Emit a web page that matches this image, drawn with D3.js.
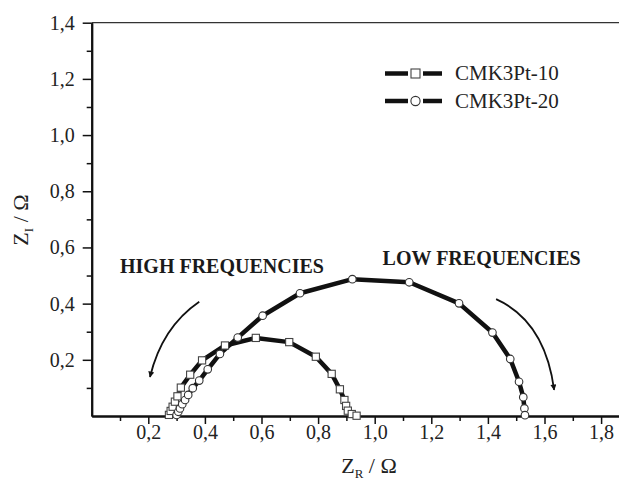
<!DOCTYPE html>
<html>
<head>
<meta charset="utf-8">
<script src="https://cdn.jsdelivr.net/npm/d3@7"></script>
<style>
  html, body { margin: 0; padding: 0; background: #fff; }
  svg { display: block; font-family: "Liberation Serif", "Times New Roman", serif; }
</style>
</head>
<body>
<svg id="chart" width="619" height="484"></svg>
<script>
// ---- data ----
const seriesNames = ["CMK3Pt-10", "CMK3Pt-20"];
const pt10X = [0.273,0.279,0.286,0.294,0.303,0.315,0.348,0.390,0.471,0.580,0.698,0.792,0.848,0.877,0.893,0.899,0.905,0.919,0.936];
const pt10Y = [0.004,0.018,0.033,0.051,0.070,0.101,0.147,0.198,0.251,0.278,0.263,0.211,0.150,0.095,0.057,0.036,0.019,0.007,0.001];
const pt20X = [0.300,0.306,0.312,0.320,0.330,0.341,0.357,0.380,0.410,0.453,0.516,0.604,0.736,0.921,1.122,1.298,1.416,1.479,1.510,1.525,1.529,1.531];
const pt20Y = [0.004,0.015,0.027,0.042,0.057,0.075,0.099,0.126,0.166,0.221,0.279,0.357,0.437,0.487,0.476,0.401,0.297,0.203,0.122,0.067,0.027,0.003];
const xTicks = [0.2,0.4,0.6,0.8,1.0,1.2,1.4,1.6,1.8];
const xMinorTicks = [0.1,0.3,0.5,0.7,0.9,1.1,1.3,1.5,1.7];
const yTicks = [0.2,0.4,0.6,0.8,1.0,1.2,1.4];
const yMinorTicks = [0.1,0.3,0.5,0.7,0.9,1.1,1.3];
const annotations = [
  {text: "HIGH FREQUENCIES", x: 0.1, y: 0.508},
  {text: "LOW FREQUENCIES", x: 1.028, y: 0.539}
];
// arrows: start, control, end in data units
const arrows = [
  {x0: 0.380, y0: 0.407, cx: 0.248, cy: 0.316, x1: 0.206, y1: 0.139},
  {x0: 1.429, y0: 0.416, cx: 1.602, cy: 0.337, x1: 1.634, y1: 0.093}
];

// ---- layout ----
const svg = d3.select("#chart");
const mLeft = 91.7, mTop = 22.7, mBottom = 416, mRight = 619;
const x = d3.scaleLinear().domain([0, (mRight - mLeft) / 283]).range([mLeft, mRight]);
const y = d3.scaleLinear().domain([0, 1.4]).range([mBottom, mTop]);
const fmt = d => d.toFixed(1).replace(".", ",");

svg.append("defs").append("marker")
  .attr("id", "ah").attr("viewBox", "0 0 10 10").attr("refX", 9).attr("refY", 5)
  .attr("markerWidth", 10).attr("markerHeight", 6).attr("markerUnits", "userSpaceOnUse")
  .attr("orient", "auto")
  .append("path").attr("d", "M0,0 L10,5 L0,10 Z").attr("fill", "#111");

// top frame line
svg.append("line").attr("x1", mLeft).attr("x2", mRight).attr("y1", mTop).attr("y2", mTop)
  .attr("stroke", "#333").attr("stroke-width", 1.2);

// axes
const gx = svg.append("g").attr("transform", `translate(0,${mBottom})`)
  .call(d3.axisBottom(x).tickValues(xTicks).tickFormat(fmt).tickSize(8).tickPadding(1).tickSizeOuter(0));
const gxm = svg.append("g").attr("transform", `translate(0,${mBottom})`)
  .call(d3.axisBottom(x).tickValues(xMinorTicks).tickFormat("").tickSize(5).tickSizeOuter(0));
const gy = svg.append("g").attr("transform", `translate(${mLeft},0)`)
  .call(d3.axisLeft(y).tickValues(yTicks).tickFormat(fmt).tickSize(9).tickPadding(8).tickSizeOuter(0));
const gym = svg.append("g").attr("transform", `translate(${mLeft},0)`)
  .call(d3.axisLeft(y).tickValues(yMinorTicks).tickFormat("").tickSize(5).tickSizeOuter(0));
[gx, gxm, gy, gym].forEach(g => {
  g.select(".domain").attr("stroke", "#111").attr("stroke-width", 2);
  g.selectAll(".tick line").attr("stroke", "#111").attr("stroke-width", 1.5);
  g.selectAll(".tick text").attr("fill", "#222").style("font-size", "20px")
    .style("font-family", '"Liberation Serif", "Times New Roman", serif');
});

// axis titles
const xt = svg.append("text").attr("x", 369).attr("y", 473).attr("text-anchor", "middle")
  .style("font-size", "22px").attr("fill", "#222");
xt.append("tspan").text("Z");
xt.append("tspan").attr("dy", 5).style("font-size", "13px").text("R");
xt.append("tspan").attr("dy", -5).text(" / Ω");

const yt = svg.append("text").attr("transform", "translate(28,220) rotate(-90)").attr("text-anchor", "middle")
  .style("font-size", "22px").attr("fill", "#222");
yt.append("tspan").text("Z");
yt.append("tspan").attr("dy", 5).style("font-size", "13px").text("I");
yt.append("tspan").attr("dy", -5).text(" / Ω");

// series
const d10 = pt10X.map((v, i) => [v, pt10Y[i]]);
const d20 = pt20X.map((v, i) => [v, pt20Y[i]]);
const line = d3.line().x(d => x(d[0])).y(d => y(d[1]));
[d10, d20].forEach(d => {
  svg.append("path").attr("d", line(d)).attr("fill", "none").attr("stroke", "#111")
    .attr("stroke-width", 4.5).attr("stroke-linejoin", "round");
});
svg.append("g").selectAll("rect").data(d10).join("rect")
  .attr("x", d => x(d[0]) - 3.6).attr("y", d => y(d[1]) - 3.6)
  .attr("width", 7.2).attr("height", 7.2)
  .attr("fill", "#fff").attr("stroke", "#444").attr("stroke-width", 1.1);
svg.append("g").selectAll("circle").data(d20).join("circle")
  .attr("cx", d => x(d[0])).attr("cy", d => y(d[1])).attr("r", 3.8)
  .attr("fill", "#fff").attr("stroke", "#333").attr("stroke-width", 1.1);

// legend
const lg = svg.append("g");
seriesNames.forEach((name, i) => {
  const ly = 73.5 + i * 27.5;
  lg.append("line").attr("x1", 385).attr("x2", 408).attr("y1", ly).attr("y2", ly)
    .attr("stroke", "#111").attr("stroke-width", 4.5);
  lg.append("line").attr("x1", 423).attr("x2", 442).attr("y1", ly).attr("y2", ly)
    .attr("stroke", "#111").attr("stroke-width", 4.5);
  if (i === 0) {
    lg.append("rect").attr("x", 411).attr("y", ly - 4.5).attr("width", 9).attr("height", 9)
      .attr("fill", "#fff").attr("stroke", "#444").attr("stroke-width", 1.1);
  } else {
    lg.append("circle").attr("cx", 415.5).attr("cy", ly).attr("r", 4.6)
      .attr("fill", "#fff").attr("stroke", "#333").attr("stroke-width", 1.1);
  }
  lg.append("text").attr("x", 455).attr("y", ly + 6.5).style("font-size", "21px")
    .attr("fill", "#222").text(name);
});

// annotations
svg.append("g").selectAll("text").data(annotations).join("text")
  .attr("x", d => x(d.x)).attr("y", d => y(d.y))
  .style("font-size", "20px").style("font-weight", "bold").attr("fill", "#1a1a1a")
  .text(d => d.text);
svg.append("g").selectAll("path").data(arrows).join("path")
  .attr("d", d => `M${x(d.x0)},${y(d.y0)} Q${x(d.cx)},${y(d.cy)} ${x(d.x1)},${y(d.y1)}`)
  .attr("fill", "none").attr("stroke", "#111").attr("stroke-width", 1.8)
  .attr("marker-end", "url(#ah)");
</script>
</body>
</html>
